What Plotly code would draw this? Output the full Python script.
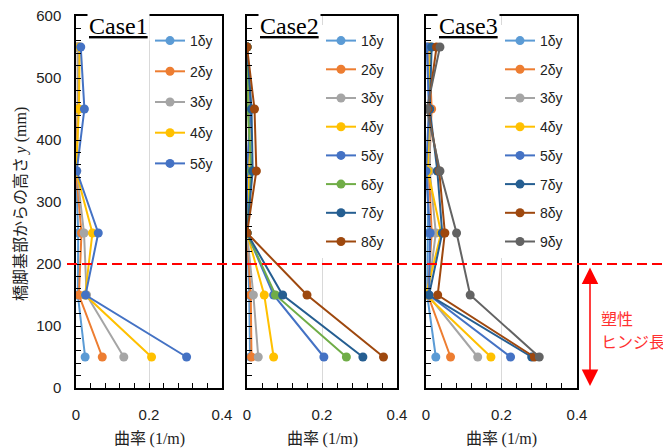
import plotly.graph_objects as go

W, H = 671, 448
OFF = 8  # page body margin of the browser

heights = [50, 150, 250, 350, 450, 550]

case1_labels = ["1δy", "2δy", "3δy", "4δy", "5δy"]
case1_values = [
    [0.025, 0.005, 0.006, 0.000, 0.005, 0.005],
    [0.072, 0.008, 0.015, 0.000, 0.005, 0.005],
    [0.131, 0.029, 0.022, 0.002, 0.006, 0.005],
    [0.207, 0.025, 0.045, 0.000, 0.008, 0.010],
    [0.303, 0.026, 0.061, 0.002, 0.023, 0.013],
]

case2_labels = ["1δy", "2δy", "3δy", "4δy", "5δy", "6δy", "7δy", "8δy"]
case2_values = [
    [0.008, 0.006, 0.000, 0.005, 0.005, 0.000],
    [0.012, 0.010, 0.000, 0.005, 0.005, 0.000],
    [0.030, 0.017, 0.000, 0.008, 0.006, 0.000],
    [0.071, 0.046, 0.000, 0.003, 0.008, 0.000],
    [0.205, 0.071, 0.000, 0.000, 0.010, 0.000],
    [0.265, 0.076, 0.000, 0.012, 0.002, 0.000],
    [0.309, 0.095, 0.000, 0.015, 0.012, 0.000],
    [0.364, 0.160, 0.000, 0.025, 0.020, 0.000],
]

case3_labels = ["1δy", "2δy", "3δy", "4δy", "5δy", "7δy", "8δy", "9δy"]
case3_values = [
    [0.026, 0.003, 0.005, 0.005, 0.008, 0.005],
    [0.065, 0.005, 0.015, 0.008, 0.015, 0.008],
    [0.137, 0.005, 0.026, 0.010, 0.010, 0.010],
    [0.172, 0.000, 0.040, 0.005, 0.008, 0.012],
    [0.224, 0.008, 0.011, 0.000, 0.008, 0.002],
    [0.280, 0.008, 0.043, 0.030, 0.010, 0.015],
    [0.287, 0.031, 0.050, 0.035, 0.005, 0.028],
    [0.300, 0.117, 0.081, 0.037, 0.002, 0.037],
]

colors = {
    "1δy": "#5B9BD5", "2δy": "#ED7D31", "3δy": "#A5A5A5", "4δy": "#FFC000",
    "5δy": "#4472C4", "6δy": "#70AD47", "7δy": "#255E91", "8δy": "#9E480E",
    "9δy": "#636363",
}

case_titles = ["Case1", "Case2", "Case3"]
hinge_height = 200


def px2x(p):
    return (p - OFF) / W


def px2y(p):
    return 1 - (p - OFF) / H


# pixel layout of the three panels (window pixels)
panels_px = [(76, 222), (247, 397), (426, 577)]
y_top_px, y_bot_px = 16, 388

fig = go.Figure()

cases = [(case1_labels, case1_values), (case2_labels, case2_values), (case3_labels, case3_values)]
for i, (labels, values) in enumerate(cases):
    ax = "" if i == 0 else str(i + 1)
    leg = "legend" if i == 0 else f"legend{i + 1}"
    for lab, vals in zip(labels, values):
        fig.add_trace(go.Scatter(
            x=vals, y=heights, name=lab, mode="lines+markers",
            line=dict(color=colors[lab], width=2),
            marker=dict(color=colors[lab], size=9),
            xaxis="x" + ax, yaxis="y" + ax, legend=leg,
            legendgroup=f"c{i}{lab}",
        ))

ydom = [px2y(y_bot_px), px2y(y_top_px)]
sans = "Liberation Sans"
serif = "Liberation Serif"
cjk = "Noto Sans CJK JP"

layout = dict(
    width=W, height=H, margin=dict(l=0, r=0, t=0, b=0, autoexpand=False),
    paper_bgcolor="white", plot_bgcolor="white",
    showlegend=True,
)
for i, (l, r) in enumerate(panels_px):
    sfx = "" if i == 0 else str(i + 1)
    layout["xaxis" + sfx] = dict(
        domain=[px2x(l), px2x(r)], range=[0, 0.4], anchor="y" + sfx,
        tickvals=[0, 0.2, 0.4], ticktext=["0", "0.2", "0.4"],
        ticks="inside", ticklen=5, tickcolor="black", tickwidth=1,
        minor=dict(dtick=0.04, ticks="inside", ticklen=5, tickcolor="black", showgrid=False),
        showgrid=True, gridcolor="#D9D9D9", gridwidth=1,
        showline=True, linecolor="black", linewidth=1.5, mirror=True,
        zeroline=False, tickfont=dict(family=sans, size=15, color="#222"),
        ticklabelstandoff=12, ticklabeloverflow="allow",
        fixedrange=True, automargin=False,
    )
    layout["yaxis" + sfx] = dict(
        domain=ydom, range=[0, 600], anchor="x" + sfx,
        tickvals=[0, 100, 200, 300, 400, 500, 600],
        ticks="inside", ticklen=5, tickcolor="black", tickwidth=1,
        minor=dict(dtick=20, ticks="inside", ticklen=5, tickcolor="black", showgrid=False),
        showgrid=False, showline=True, linecolor="black", linewidth=1.5, mirror=True,
        zeroline=False, showticklabels=(i == 0),
        tickfont=dict(family=sans, size=15, color="#222"),
        ticklabelstandoff=10, ticklabeloverflow="allow",
        fixedrange=True, automargin=False,
    )
    leg = "legend" if i == 0 else f"legend{i + 1}"
    gap = 9.5 if i == 0 else 7.5
    layout[leg] = dict(
        x=px2x(l + 74), y=px2y(25), xanchor="left", yanchor="top",
        bgcolor="white", borderwidth=0, tracegroupgap=gap,
        font=dict(family=sans, size=14, color="#222"),
        itemwidth=30,
    )

fig.update_layout(**layout)

annotations = []
for i, (l, r) in enumerate(panels_px):
    annotations.append(dict(
        text=f"<u>{case_titles[i]}</u>", x=px2x(l + 11), y=px2y(26),
        xref="paper", yref="paper", xanchor="left", yanchor="middle",
        showarrow=False, bgcolor="white",
        font=dict(family=serif, size=24, color="black"),
    ))
    annotations.append(dict(
        text=f"曲率 <span style='font-family:{serif}'>(1/m)</span>",
        x=px2x((l + r) / 2), y=px2y(437), xref="paper", yref="paper",
        xanchor="center", yanchor="middle", showarrow=False,
        font=dict(family=cjk, size=16, color="#222"),
    ))

annotations.append(dict(
    text=f"橋脚基部からの高さ <span style='font-family:{serif};font-style:italic'>y</span>"
         f"<span style='font-family:{serif}'> (mm)</span>",
    x=px2x(19), y=px2y(204), xref="paper", yref="paper", textangle=-90,
    xanchor="center", yanchor="middle", showarrow=False,
    font=dict(family=cjk, size=16, color="#222"),
))

# plastic hinge arrow and label
annotations.append(dict(
    text="", x=px2x(590), y=px2y(386), xref="paper", yref="paper",
    ax=0, ay=-(386 - 266), axref="pixel", ayref="pixel",
    showarrow=True, arrowhead=2, arrowsize=2.2, arrowwidth=1.5,
    arrowside="end+start", arrowcolor="#FF0000",
))
annotations.append(dict(
    text="塑性", x=px2x(599), y=px2y(318), xref="paper", yref="paper",
    xanchor="left", yanchor="middle", align="left", showarrow=False,
    font=dict(family=cjk, size=16, color="#FF3030"),
))
annotations.append(dict(
    text="ヒンジ長", x=px2x(599), y=px2y(341), xref="paper", yref="paper",
    xanchor="left", yanchor="middle", align="left", showarrow=False,
    font=dict(family=cjk, size=16, color="#FF3030"),
))
fig.update_layout(annotations=annotations)

fig.add_shape(
    type="line", xref="paper", yref="y", x0=px2x(67), x1=px2x(665),
    y0=hinge_height, y1=hinge_height,
    line=dict(color="#FF0000", width=2, dash="10px,5px"),
)

fig.write_html("out.html")
